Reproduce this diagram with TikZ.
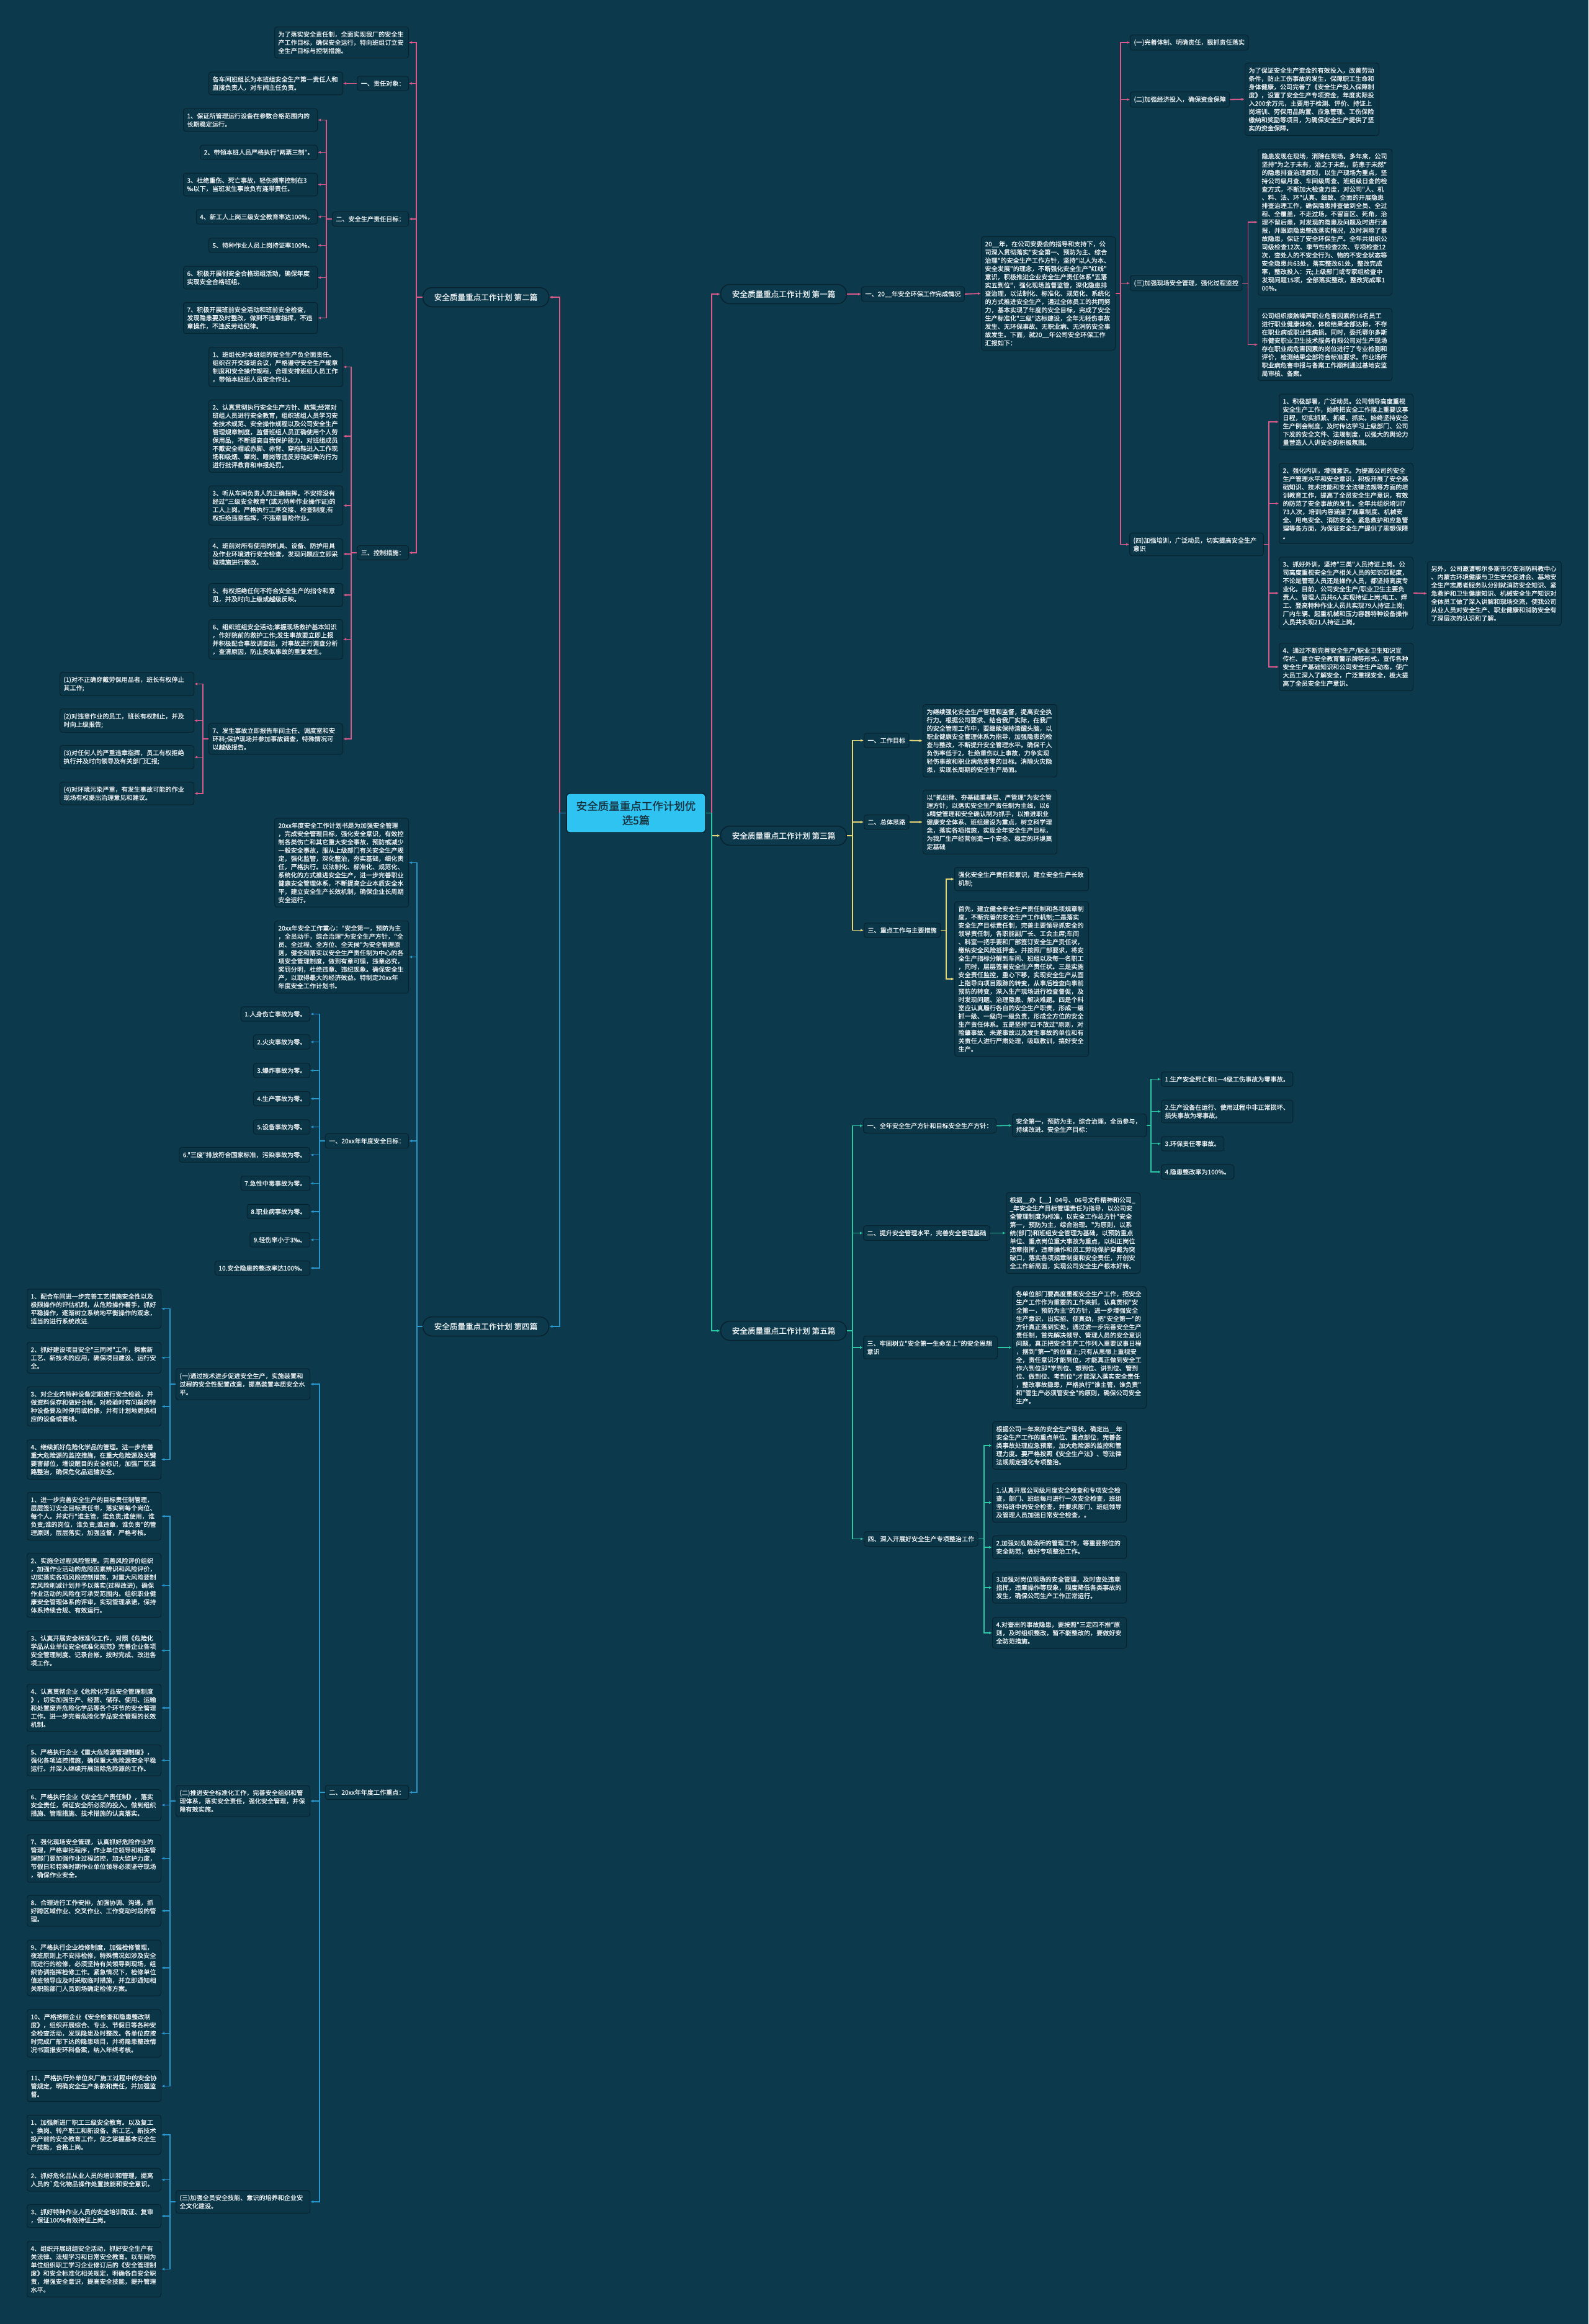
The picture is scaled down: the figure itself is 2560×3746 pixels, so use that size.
\documentclass[tikz,border=0pt]{standalone}
\usepackage{fontspec}
\newfontfamily\cjk{Noto Sans CJK SC}[FakeBold=0.8]
\usetikzlibrary{arrows.meta}
\definecolor{bgc}{HTML}{0C3A4C}
\definecolor{boxc}{HTML}{0B3647}
\definecolor{bordc}{HTML}{08222E}
\definecolor{txtc}{HTML}{EEF2F4}
\definecolor{ctrc}{HTML}{2EC3F0}
\definecolor{ctrtxt}{HTML}{17303D}
\definecolor{pinkc}{HTML}{DC5A8A}
\definecolor{bluec}{HTML}{2A97CC}
\definecolor{yelc}{HTML}{E9D676}
\definecolor{tealc}{HTML}{2CC7A4}
\tikzset{
  bx/.style={draw=bordc, line width=1pt, fill=boxc, rounded corners=4pt, text=txtc,
    inner xsep=6pt, inner ysep=7pt, align=left, font=\cjk\fontsize{10.1pt}{13.3pt}\selectfont},
  wbx/.style={bx, text width=204pt},
  lbx/.style={bx, anchor=east},
  rbx/.style={bx, anchor=west},
  lwb/.style={wbx, anchor=east},
  rwb/.style={wbx, anchor=west},
  part/.style={draw=bordc, line width=1.5pt, fill=bgc, rounded corners=15pt, text=txtc,
    minimum width=203pt, minimum height=31pt, font=\cjk\fontsize{12.6pt}{15pt}\selectfont},
  ctrbox/.style={draw=bordc, line width=1.5pt, fill=ctrc, rounded corners=5pt, text=ctrtxt,
    align=center, text width=193pt, inner xsep=15.5pt, inner ysep=12pt,
    font=\cjk\fontsize{17.5pt}{23pt}\selectfont},
  pkln/.style={draw=pinkc, line width=1.8pt, -{Latex[length=5pt,width=4.5pt]}},
  blln/.style={draw=bluec, line width=1.8pt, -{Latex[length=5pt,width=4.5pt]}},
  yeln/.style={draw=yelc, line width=1.8pt, -{Latex[length=5pt,width=4.5pt]}},
  tlln/.style={draw=tealc, line width=1.8pt, -{Latex[length=5pt,width=4.5pt]}}
}
\begin{document}
\begin{tikzpicture}[x=1pt,y=-1pt]
\fill[bgc] (0,0) rectangle (2560,3746);
\useasboundingbox (0,0) rectangle (2560,3746);

\node[ctrbox] (ctr) at (1025,1310.5) {安全质量重点工作计划优\\选5篇};
\node[part] (b2) at (783,479) {安全质量重点工作计划 第二篇};
\node[part] (b4) at (783,2138) {安全质量重点工作计划 第四篇};
\node[part] (b1) at (1263,474) {安全质量重点工作计划 第一篇};
\node[part] (b3) at (1263,1347) {安全质量重点工作计划 第三篇};
\node[part] (b5) at (1263,2145) {安全质量重点工作计划 第五篇};

\draw[yeln] (ctr.east) -- ++(9,0) |- (b3.west);
\draw[pkln] (ctr.east) -- ++(9,0) |- (b1.west);
\draw[tlln] (ctr.east) -- ++(9,0) |- (b5.west);
\draw[pkln] (ctr.west) -- ++(-10,0) |- (b2.east);
\draw[blln] (ctr.west) -- ++(-10,0) |- (b4.east);

% 第二篇
\node[lwb] (c1) at (659,68.5) {为了落实安全责任制，全面实现我厂的安全生\\产工作目标，确保安全运行，特向班组订立安\\全生产目标与控制措施。};
\node[lbx] (c2) at (659,134.5) {一、责任对象：};
\node[lwb] (c2a) at (553,134.5) {各车间班组长为本班组安全生产第一责任人和\\直接负责人，对车间主任负责。};
\node[lbx] (c3) at (659,353) {二、安全生产责任目标：};
\node[lwb] (c3a) at (512,193.5) {1、保证所管理运行设备在参数合格范围内的\\长期稳定运行。};
\node[lbx] (c3b) at (512,245.5) {2、带领本班人员严格执行"两票三制"。};
\node[lwb] (c3c) at (512,297.5) {3、杜绝重伤、死亡事故，轻伤频率控制在3\\‰以下，当班发生事故负有连带责任。};
\node[lbx] (c3d) at (512,349.5) {4、新工人上岗三级安全教育率达100\%。};
\node[lbx] (c3e) at (512,395.5) {5、特种作业人员上岗持证率100\%。};
\node[lwb] (c3f) at (512,447.5) {6、积极开展创安全合格班组活动，确保年度\\实现安全合格班组。};
\node[lwb] (c3g) at (512,512.5) {7、积极开展班前安全活动和班前安全检查，\\发现隐患要及时整改，做到不违章指挥，不违\\章操作，不违反劳动纪律。};
\node[lbx] (c4) at (659,891) {三、控制措施：};
\node[lwb] (c4a) at (553,591.5) {1、班组长对本班组的安全生产负全面责任。\\组织召开交接班会议，严格遵守安全生产规章\\制度和安全操作规程，合理安排班组人员工作\\，带领本班组人员安全作业。};
\node[lwb] (c4b) at (553,703) {2、认真贯彻执行安全生产方针、政策;经常对\\班组人员进行安全教育，组织班组人员学习安\\全技术规范、安全操作规程以及公司安全生产\\管理规章制度，监督班组人员正确使用个人劳\\保用品，不断提高自我保护能力。对班组成员\\不戴安全帽或赤脚、赤背、穿拖鞋进入工作现\\场和吸烟、窜岗、睡岗等违反劳动纪律的行为\\进行批评教育和申报处罚。};
\node[lwb] (c4c) at (553,815) {3、听从车间负责人的正确指挥。不安排没有\\经过"三级安全教育"(或无特种作业操作证)的\\工人上岗。严格执行工序交接、检查制度;有\\权拒绝违章指挥，不违章冒险作业。};
\node[lwb] (c4d) at (553,893) {4、班前对所有使用的机具、设备、防护用具\\及作业环境进行安全检查，发现问题应立即采\\取措施进行整改。};
\node[lwb] (c4e) at (553,959) {5、有权拒绝任何不符合安全生产的指令和意\\见，并及时向上级或越级反映。};
\node[lwb] (c4f) at (553,1030.5) {6、组织班组安全活动;掌握现场救护基本知识\\，作好院前的救护工作;发生事故要立即上报\\并积极配合事故调查组，对事故进行调查分析\\，查清原因，防止类似事故的重复发生。};
\node[lwb] (c4g) at (553,1191) {7、发生事故立即报告车间主任、调度室和安\\环科;保护现场并参加事故调查，特殊情况可\\以越级报告。};
\node[lwb] (c4g1) at (313,1102.5) {(1)对不正确穿戴劳保用品者，班长有权停止\\其工作;};
\node[lwb] (c4g2) at (313,1161.5) {(2)对违章作业的员工，班长有权制止，并及\\时向上级报告;};
\node[lwb] (c4g3) at (313,1220.5) {(3)对任何人的严重违章指挥，员工有权拒绝\\执行并及时向领导及有关部门汇报;};
\node[lwb] (c4g4) at (313,1279) {(4)对环境污染严重，有发生事故可能的作业\\现场有权提出治理意见和建议。};

\draw[pkln] (b2.west) -- ++(-10,0) |- (c1.east);
\draw[pkln] (b2.west) -- ++(-10,0) |- (c2.east);
\draw[pkln] (b2.west) -- ++(-10,0) |- (c3.east);
\draw[pkln] (b2.west) -- ++(-10,0) |- (c4.east);
\draw[pkln] (c2.west) -- (c2a.east);
\draw[pkln] (c3.west) -- ++(-9,0) |- (c3a.east);
\draw[pkln] (c3.west) -- ++(-9,0) |- (c3b.east);
\draw[pkln] (c3.west) -- ++(-9,0) |- (c3c.east);
\draw[pkln] (c3.west) -- ++(-9,0) |- (c3d.east);
\draw[pkln] (c3.west) -- ++(-9,0) |- (c3e.east);
\draw[pkln] (c3.west) -- ++(-9,0) |- (c3f.east);
\draw[pkln] (c3.west) -- ++(-9,0) |- (c3g.east);
\draw[pkln] (c4.west) -- ++(-9,0) |- (c4a.east);
\draw[pkln] (c4.west) -- ++(-9,0) |- (c4b.east);
\draw[pkln] (c4.west) -- ++(-9,0) |- (c4c.east);
\draw[pkln] (c4.west) -- ++(-9,0) |- (c4d.east);
\draw[pkln] (c4.west) -- ++(-9,0) |- (c4e.east);
\draw[pkln] (c4.west) -- ++(-9,0) |- (c4f.east);
\draw[pkln] (c4.west) -- ++(-9,0) |- (c4g.east);
\draw[pkln] (c4g.west) -- ++(-9,0) |- (c4g1.east);
\draw[pkln] (c4g.west) -- ++(-9,0) |- (c4g2.east);
\draw[pkln] (c4g.west) -- ++(-9,0) |- (c4g3.east);
\draw[pkln] (c4g.west) -- ++(-9,0) |- (c4g4.east);

% 第四篇
\node[lwb] (d1) at (659,1390.5) {20xx年度安全工作计划书是为加强安全管理\\，完成安全管理目标，强化安全意识，有效控\\制各类伤亡和其它重大安全事故，预防或减少\\一般安全事故，服从上级部门有关安全生产规\\定，强化监管，深化整治，夯实基础，细化责\\任，严格执行。以法制化、标准化、规范化、\\系统化的方式推进安全生产，进一步完善职业\\健康安全管理体系，不断提高企业本质安全水\\平，建立安全生产长效机制，确保企业长周期\\安全运行。};
\node[lwb] (d2) at (659,1542.5) {20xx年安全工作重心："安全第一，预防为主\\，全员动手，综合治理"为安全生产方针，"全\\员、全过程、全方位、全天候"为安全管理原\\则，健全和落实以安全生产责任制为中心的各\\项安全管理制度，做到有章可循，违章必究，\\奖罚分明，杜绝违章、违纪现象。确保安全生\\产，以取得最大的经济效益。特制定20xx年\\年度安全工作计划书。};
\node[lbx] (d3) at (659,1839) {一、20xx年年度安全目标：};
\node[lbx] (d3a) at (500,1634.5) {1.人身伤亡事故为零。};
\node[lbx] (d3b) at (500,1679.5) {2.火灾事故为零。};
\node[lbx] (d3c) at (500,1725.5) {3.爆炸事故为零。};
\node[lbx] (d3d) at (500,1771) {4.生产事故为零。};
\node[lbx] (d3e) at (500,1816.5) {5.设备事故为零。};
\node[lbx] (d3f) at (500,1861.5) {6."三废"排放符合国家标准，污染事故为零。};
\node[lbx] (d3g) at (500,1907.5) {7.急性中毒事故为零。};
\node[lbx] (d3h) at (500,1953) {8.职业病事故为零。};
\node[lbx] (d3i) at (500,1998.5) {9.轻伤率小于3‰。};
\node[lbx] (d3j) at (500,2044) {10.安全隐患的整改率达100\%。};
\node[lbx] (d4) at (659,2889) {二、20xx年年度工作重点：};
\node[lwb] (d4a) at (500,2231) {(一)通过技术进步促进安全生产，实施装置和\\过程的安全性配置改造，提高装置本质安全水\\平。};
\node[lwb] (d4b) at (500,2903) {(二)推进安全标准化工作，完善安全组织和管\\理体系，落实安全责任，强化安全管理，并保\\障有效实施。};
\node[lwb] (d4c) at (500,3549) {(三)加强全员安全技能、意识的培养和企业安\\全文化建设。};
\node[lwb] (d4a1) at (260,2109.5) {1、配合车间进一步完善工艺措施安全性以及\\极限操作的评估机制，从危险操作着手，抓好\\平稳操作，逐渐树立系统地平衡操作的观念，\\适当的进行系统改进.};
\node[lwb] (d4a2) at (260,2188.5) {2、抓好建设项目安全"三同时"工作，探索新\\工艺、新技术的应用，确保项目建设、运行安\\全。};
\node[lwb] (d4a3) at (260,2267) {3、对企业内特种设备定期进行安全检验，并\\做资料保存和做好台帐，对检验时有问题的特\\种设备要及时停用或检修，并有计划地更换相\\应的设备或管线。};
\node[lwb] (d4a4) at (260,2352.5) {4、继续抓好危险化学品的管理。进一步完善\\重大危险源的监控措施，在重大危险源及关键\\要害部位，增设醒目的安全标识，加强厂区道\\路整治，确保危化品运输安全。};
\node[lwb] (d4b1) at (260,2444) {1、进一步完善安全生产的目标责任制管理，\\层层签订安全目标责任书，落实到每个岗位、\\每个人。并实行"谁主管，谁负责;谁使用，谁\\负责;谁的岗位，谁负责;谁违章，谁负责"的管\\理原则，层层落实，加强监督，严格考核。};
\node[lwb] (d4b2) at (260,2555.5) {2、实施全过程风险管理。完善风险评价组织\\，加强作业活动的危险因素辨识和风险评价，\\切实落实各项风险控制措施，对重大风险要制\\定风险削减计划并予以落实(过程改进)，确保\\作业活动的风险在可承受范围内。组织职业健\\康安全管理体系的评审，实现管理承诺，保持\\体系持续合规、有效运行。};
\node[lwb] (d4b3) at (260,2660.5) {3、认真开展安全标准化工作，对照《危险化\\学品从业单位安全标准化规范》完善企业各项\\安全管理制度、记录台帐。按时完成、改进各\\项工作。};
\node[lwb] (d4b4) at (260,2753) {4、认真贯彻企业《危险化学品安全管理制度\\》，切实加强生产、经营、储存、使用、运输\\和处置废弃危险化学品等各个环节的安全管理\\工作。进一步完善危险化学品安全管理的长效\\机制。};
\node[lwb] (d4b5) at (260,2837.5) {5、严格执行企业《重大危险源管理制度》，\\强化各项监控措施，确保重大危险源安全平稳\\运行。并深入继续开展消除危险源的工作。};
\node[lwb] (d4b6) at (260,2909.5) {6、严格执行企业《安全生产责任制》，落实\\安全责任，保证安全所必须的投入，做到组织\\措施、管理措施、技术措施的认真落实。};
\node[lwb] (d4b7) at (260,2995.5) {7、强化现场安全管理，认真抓好危险作业的\\管理，严格审批程序，作业单位领导和相关管\\理部门要加强作业过程监控，加大监护力度，\\节假日和特殊时期作业单位领导必须坚守现场\\，确保作业安全。};
\node[lwb] (d4b8) at (260,3080) {8、合理进行工作安排，加强协调、沟通，抓\\好跨区域作业、交叉作业、工作变动时段的管\\理。};
\node[lwb] (d4b9) at (260,3172) {9、严格执行企业检修制度，加强检修管理，\\夜班原则上不安排检修，特殊情况如涉及安全\\而进行的检修，必须坚持有关领导到现场，组\\织协调指挥检修工作。紧急情况下，检修单位\\值班领导应及时采取临时措施，并立即通知相\\关职能部门人员到场确定检修方案。};
\node[lwb] (d4b10) at (260,3277.5) {10、严格按照企业《安全检查和隐患整改制\\度》，组织开展综合、专业、节假日等各种安\\全检查活动，发现隐患及时整改。各单位应按\\时完成厂部下达的隐患项目，并将隐患整改情\\况书面报安环科备案，纳入年终考核。};
\node[lwb] (d4b11) at (260,3362.5) {11、严格执行外单位来厂施工过程中的安全协\\管规定，明确安全生产条款和责任，并加强监\\督。};
\node[lwb] (d4c1) at (260,3441) {1、加强新进厂职工三级安全教育。以及复工\\、换岗、转产职工和新设备、新工艺、新技术\\投产前的安全教育工作，使之掌握基本安全生\\产技能，合格上岗。};
\node[lwb] (d4c2) at (260,3513.5) {2、抓好危化品从业人员的培训和管理，提高\\人员的`危化物品操作处置技能和安全意识。};
\node[lwb] (d4c3) at (260,3572) {3、抓好特种作业人员的安全培训取证、复审\\，保证100\%有效持证上岗。};
\node[lwb] (d4c4) at (260,3657.5) {4、组织开展班组安全活动，抓好安全生产有\\关法律、法规学习和日常安全教育。以车间为\\单位组织职工学习企业修订后的《安全管理制\\度》和安全标准化相关规定，明确各自安全职\\责，增强安全意识，提高安全技能，提升管理\\水平。};

\draw[blln] (b4.west) -- ++(-9,0) |- (d1.east);
\draw[blln] (b4.west) -- ++(-9,0) |- (d2.east);
\draw[blln] (b4.west) -- ++(-9,0) |- (d3.east);
\draw[blln] (b4.west) -- ++(-9,0) |- (d4.east);
\draw[blln] (d3.west) -- ++(-9,0) |- (d3a.east);
\draw[blln] (d3.west) -- ++(-9,0) |- (d3b.east);
\draw[blln] (d3.west) -- ++(-9,0) |- (d3c.east);
\draw[blln] (d3.west) -- ++(-9,0) |- (d3d.east);
\draw[blln] (d3.west) -- ++(-9,0) |- (d3e.east);
\draw[blln] (d3.west) -- ++(-9,0) |- (d3f.east);
\draw[blln] (d3.west) -- ++(-9,0) |- (d3g.east);
\draw[blln] (d3.west) -- ++(-9,0) |- (d3h.east);
\draw[blln] (d3.west) -- ++(-9,0) |- (d3i.east);
\draw[blln] (d3.west) -- ++(-9,0) |- (d3j.east);
\draw[blln] (d4.west) -- ++(-9,0) |- (d4a.east);
\draw[blln] (d4.west) -- ++(-9,0) |- (d4b.east);
\draw[blln] (d4.west) -- ++(-9,0) |- (d4c.east);
\draw[blln] (d4a.west) -- ++(-9,0) |- (d4a1.east);
\draw[blln] (d4a.west) -- ++(-9,0) |- (d4a2.east);
\draw[blln] (d4a.west) -- ++(-9,0) |- (d4a3.east);
\draw[blln] (d4a.west) -- ++(-9,0) |- (d4a4.east);
\draw[blln] (d4b.west) -- ++(-9,0) |- (d4b1.east);
\draw[blln] (d4b.west) -- ++(-9,0) |- (d4b2.east);
\draw[blln] (d4b.west) -- ++(-9,0) |- (d4b3.east);
\draw[blln] (d4b.west) -- ++(-9,0) |- (d4b4.east);
\draw[blln] (d4b.west) -- ++(-9,0) |- (d4b5.east);
\draw[blln] (d4b.west) -- ++(-9,0) |- (d4b6.east);
\draw[blln] (d4b.west) -- ++(-9,0) |- (d4b7.east);
\draw[blln] (d4b.west) -- ++(-9,0) |- (d4b8.east);
\draw[blln] (d4b.west) -- ++(-9,0) |- (d4b9.east);
\draw[blln] (d4b.west) -- ++(-9,0) |- (d4b10.east);
\draw[blln] (d4b.west) -- ++(-9,0) |- (d4b11.east);
\draw[blln] (d4c.west) -- ++(-9,0) |- (d4c1.east);
\draw[blln] (d4c.west) -- ++(-9,0) |- (d4c2.east);
\draw[blln] (d4c.west) -- ++(-9,0) |- (d4c3.east);
\draw[blln] (d4c.west) -- ++(-9,0) |- (d4c4.east);

% 第一篇
\node[rbx] (e0) at (1388,474) {一、20\_\_年安全环保工作完成情况};
\node[rwb] (ebig) at (1581,473) {20\_\_年，在公司安委会的指导和支持下，公\\司深入贯彻落实"安全第一、预防为主、综合\\治理"的安全生产工作方针，坚持"以人为本、\\安全发展"的理念，不断强化安全生产"红线"\\意识，积极推进企业安全生产责任体系"五落\\实五到位"，强化现场监督监管，深化隐患排\\查治理，以法制化、标准化、规范化、系统化\\的方式推进安全生产，通过全体员工的共同努\\力，基本实现了年度的安全目标，完成了安全\\生产标准化"三级"达标建设，全年无轻伤事故\\发生、无环保事故、无职业病、无消防安全事\\故发生。下面，就20\_\_年公司安全环保工作\\汇报如下：};
\node[rbx] (e1) at (1821,68.5) {(一)完善体制、明确责任，狠抓责任落实};
\node[rbx] (e2) at (1821,160.5) {(二)加强经济投入，确保资金保障};
\node[rwb] (e2a) at (2006,160) {为了保证安全生产资金的有效投入，改善劳动\\条件，防止工伤事故的发生，保障职工生命和\\身体健康，公司完善了《安全生产投入保障制\\度》，设置了安全生产专项资金，年度实际投\\入200余万元，主要用于检测、评价、持证上\\岗培训、劳保用品购置、应急管理、工伤保险\\缴纳和奖励等项目，为确保安全生产提供了坚\\实的资金保障。};
\node[rbx] (e3) at (1821,456.5) {(三)加强现场安全管理，强化过程监控};
\node[rwb] (e3a) at (2027,358) {隐患发现在现场，消除在现场。多年来，公司\\坚持"为之于未有，治之于未乱，防患于未然"\\的隐患排查治理原则，以生产现场为重点，坚\\持公司级月查、车间级周查、班组级日查的检\\查方式，不断加大检查力度，对公司"人、机\\、料、法、环"认真、细致、全面的开展隐患\\排查治理工作，确保隐患排查做到全员、全过\\程、全覆盖，不走过场，不留盲区、死角，治\\理不留后患，对发现的隐患及问题及时进行通\\报，并跟踪隐患整改落实情况，及时消除了事\\故隐患，保证了安全环保生产。全年共组织公\\司级检查12次、季节性检查2次、专项检查12\\次，查处人的不安全行为、物的不安全状态等\\安全隐患共63处，落实整改61处，整改完成\\率，整改投入：元;上级部门或专家组检查中\\发现问题15项，全部落实整改，整改完成率1\\00\%。};
\node[rwb] (e3b) at (2027,555.5) {公司组织接触噪声职业危害因素的16名员工\\进行职业健康体检，体检结果全部达标，不存\\在职业病或职业性病损。同时，委托鄂尔多斯\\市健安职业卫生技术服务有限公司对生产现场\\存在职业病危害因素的岗位进行了专业检测和\\评价，检测结果全部符合标准要求。作业场所\\职业病危害申报与备案工作顺利通过基地安监\\局审核、备案。};
\node[rwb] (e4) at (1820,877.5) {(四)加强培训，广泛动员，切实提高安全生产\\意识};
\node[rwb] (e4a) at (2061,680) {1、积极部署，广泛动员。公司领导高度重视\\安全生产工作，始终把安全工作摆上重要议事\\日程，切实抓紧、抓细、抓实。始终坚持安全\\生产例会制度，及时传达学习上级部门、公司\\下发的安全文件、法规制度，以强大的舆论力\\量营造人人讲安全的积极氛围。};
\node[rwb] (e4b) at (2061,811.5) {2、强化内训，增强意识。为提高公司的安全\\生产管理水平和安全意识，积极开展了安全基\\础知识、技术技能和安全法律法规等方面的培\\训教育工作，提高了全员安全生产意识，有效\\的防范了安全事故的发生。全年共组织培训7\\73人次，培训内容涵盖了规章制度、机械安\\全、用电安全、消防安全、紧急救护和应急管\\理等各方面，为保证安全生产提供了思想保障\\。};
\node[rwb] (e4c) at (2061,956) {3、抓好外训，坚持"三类"人员持证上岗。公\\司高度重视安全生产相关人员的知识匹配度，\\不论是管理人员还是操作人员，都坚持高度专\\业化。目前，公司安全生产/职业卫生主要负\\责人、管理人员共6人实现持证上岗;电工、焊\\工、登高特种作业人员共实现79人持证上岗;\\厂内车辆、起重机械和压力容器特种设备操作\\人员共实现21人持证上岗。};
\node[rwb] (e4c1) at (2300,956.5) {另外，公司邀请鄂尔多斯市亿安消防科教中心\\、内蒙古环境健康与卫生安全促进会、基地安\\全生产志愿者服务队分别就消防安全知识、紧\\急救护和卫生健康知识、机械安全生产知识对\\全体员工做了深入讲解和现场交流，使我公司\\从业人员对安全生产、职业健康和消防安全有\\了深层次的认识和了解。};
\node[rwb] (e4d) at (2061,1075) {4、通过不断完善安全生产/职业卫生知识宣\\传栏、建立安全教育警示牌等形式，宣传各种\\安全生产基础知识和公司安全生产动态，使广\\大员工深入了解安全，广泛重视安全，极大提\\高了全员安全生产意识。};

\draw[pkln] (b1.east) -- (e0.west);
\draw[pkln] (e0.east) -- (ebig.west);
\draw[pkln] (ebig.east) -- ++(8,0) |- (e1.west);
\draw[pkln] (ebig.east) -- ++(8,0) |- (e2.west);
\draw[pkln] (ebig.east) -- ++(8,0) |- (e3.west);
\draw[pkln] (ebig.east) -- ++(8,0) |- (e4.west);
\draw[pkln] (e2.east) -- (e2a.west);
\draw[pkln] (e3.east) -- ++(9,0) |- (e3a.west);
\draw[pkln] (e3.east) -- ++(9,0) |- (e3b.west);
\draw[pkln] (e4.east) -- ++(8,0) |- (e4a.west);
\draw[pkln] (e4.east) -- ++(8,0) |- (e4b.west);
\draw[pkln] (e4.east) -- ++(8,0) |- (e4c.west);
\draw[pkln] (e4.east) -- ++(8,0) |- (e4d.west);
\draw[pkln] (e4c.east) -- (e4c1.west);

% 第三篇
\node[rbx] (f1) at (1392,1193.5) {一、工作目标};
\node[rwb] (f1a) at (1487,1194) {为继续强化安全生产管理和监督，提高安全执\\行力。根据公司要求、结合我厂实际，在我厂\\的安全管理工作中，要继续保持清醒头脑，以\\职业健康安全管理体系为指导，加强隐患的检\\查与整改，不断提升安全管理水平。确保千人\\负伤率低于2，杜绝重伤以上事故，力争实现\\轻伤事故和职业病危害零的目标。消除火灾隐\\患，实现长周期的安全生产局面。};
\node[rbx] (f2) at (1392,1325) {二、总体思路};
\node[rwb] (f2a) at (1487,1325) {以"抓纪律、夯基础重基层、严管理"为安全管\\理方针，以落实安全生产责任制为主线，以6\\s精益管理和安全确认制为抓手，以推进职业\\健康安全体系、班组建设为重点，树立科学理\\念，落实各项措施，实现全年安全生产目标，\\为我厂生产经营创造一个安全、稳定的环境奠\\定基础};
\node[rbx] (f3) at (1392,1499.5) {三、重点工作与主要措施};
\node[rwb] (f3a) at (1538,1417) {强化安全生产责任和意识，建立安全生产长效\\机制;};
\node[rwb] (f3b) at (1538,1578) {首先，建立健全安全生产责任制和各项规章制\\度，不断完善的安全生产工作机制;二是落实\\安全生产目标责任制，完善主要领导抓安全的\\领导责任制，各职能副厂长、工会主席;车间\\、科室一把手要和厂部签订安全生产责任状，\\缴纳安全风险抵押金。并按照厂部要求，将安\\全生产指标分解到车间、班组以及每一名职工\\，同时，层层签署安全生产责任状。三是实施\\安全责任监控，重心下移，实现安全生产从面\\上指导向项目跟踪的转变，从事后检查向事前\\预防的转变，深入生产现场进行检查督促，及\\时发现问题、治理隐患、解决难题。四是个科\\室应认真履行各自的安全生产职责，形成一级\\抓一级、一级向一级负责，形成全方位的安全\\生产责任体系。五是坚持"四不放过"原则，对\\险肇事故、未遂事故以及发生事故的单位和有\\关责任人进行严肃处理，吸取教训，搞好安全\\生产。};

\draw[yeln] (b3.east) -- ++(9,0) |- (f1.west);
\draw[yeln] (b3.east) -- ++(9,0) |- (f2.west);
\draw[yeln] (b3.east) -- ++(9,0) |- (f3.west);
\draw[yeln] (f1.east) -- (f1a.west);
\draw[yeln] (f2.east) -- (f2a.west);
\draw[yeln] (f3.east) -- ++(9,0) |- (f3a.west);
\draw[yeln] (f3.east) -- ++(9,0) |- (f3b.west);

% 第五篇
\node[rbx] (g1) at (1391,1814.5) {一、全年安全生产方针和目标安全生产方针：};
\node[rwb] (g1a) at (1631,1814) {安全第一，预防为主，综合治理，全员参与，\\持续改进。安全生产目标：};
\node[rbx] (g1a1) at (1871,1739.5) {1.生产安全死亡和1—4级工伤事故为零事故。};
\node[rbx] (g1a2) at (1871,1791.5) {2.生产设备在运行、使用过程中非正常损坏、\\损失事故为零事故。};
\node[rbx] (g1a3) at (1871,1843.5) {3.环保责任零事故。};
\node[rbx] (g1a4) at (1871,1889) {4.隐患整改率为100\%。};
\node[rbx] (g2) at (1391,1987.5) {二、提升安全管理水平，完善安全管理基础};
\node[rwb] (g2a) at (1621,1987.5) {根据\_\_办【\_\_】04号、06号文件精神和公司\_\\\_年安全生产目标管理责任为指导，以公司安\\全管理制度为标准，以安全工作总方针"安全\\第一，预防为主，综合治理。"为原则，以系\\统(部门)和班组安全管理为基础，以预防重点\\单位、重点岗位重大事故为重点，以纠正岗位\\违章指挥，违章操作和员工劳动保护穿戴为突\\破口，落实各项规章制度和安全责任，开创安\\全工作新局面，实现公司安全生产根本好转。};
\node[rwb] (g3) at (1391,2172) {三、牢固树立"安全第一生命至上"的安全思想\\意识};
\node[rwb] (g3a) at (1631,2172) {各单位部门要高度重视安全生产工作，把安全\\生产工作作为重要的工作来抓，认真贯彻"安\\全第一，预防为主"的方针，进一步增强安全\\生产意识，出实招、使真劲，把"安全第一"的\\方针真正落到实处，通过进一步完善安全生产\\责任制，首先解决领导、管理人员的安全意识\\问题，真正把安全生产工作列入重要议事日程\\，摆到"第一"的位置上;只有从思想上重视安\\全，责任意识才能到位，才能真正做到安全工\\作六到位即"学到位、想到位、讲到位、管到\\位、做到位、考到位";才能深入落实安全责任\\，整改事故隐患，严格执行"谁主管，谁负责"\\和"管生产必须管安全"的原则，确保公司安全\\生产。};
\node[rbx] (g4) at (1392,2480.5) {四、深入开展好安全生产专项整治工作};
\node[rwb] (g4a) at (1599,2330) {根据公司一年来的安全生产现状，确定出\_\_年\\安全生产工作的重点单位、重点部位，完善各\\类事故处理应急预案，加大危险源的监控和管\\理力度。要严格按照《安全生产法》、等法律\\法规规定强化专项整治。};
\node[rwb] (g4b) at (1599,2422) {1.认真开展公司级月度安全检查和专项安全检\\查，部门、班组每月进行一次安全检查，班组\\坚持班中的安全检查，并要求部门、班组领导\\及管理人员加强日常安全检查，。};
\node[rwb] (g4c) at (1599,2494) {2.加强对危险场所的管理工作，等重要部位的\\安全防范，做好专项整治工作。};
\node[rwb] (g4d) at (1599,2559) {3.加强对岗位现场的安全管理，及时查处违章\\指挥，违章操作等现象，限度降低各类事故的\\发生，确保公司生产工作正常运行。};
\node[rwb] (g4e) at (1599,2632) {4.对查出的事故隐患，要按照"三定四不推"原\\则，及时组织整改，暂不能整改的，要做好安\\全防范措施。};

\draw[tlln] (b5.east) -- ++(9,0) |- (g1.west);
\draw[tlln] (b5.east) -- ++(9,0) |- (g2.west);
\draw[tlln] (b5.east) -- ++(9,0) |- (g3.west);
\draw[tlln] (b5.east) -- ++(9,0) |- (g4.west);
\draw[tlln] (g1.east) -- (g1a.west);
\draw[tlln] (g1a.east) -- ++(7,0) |- (g1a1.west);
\draw[tlln] (g1a.east) -- ++(7,0) |- (g1a2.west);
\draw[tlln] (g1a.east) -- ++(7,0) |- (g1a3.west);
\draw[tlln] (g1a.east) -- ++(7,0) |- (g1a4.west);
\draw[tlln] (g2.east) -- (g2a.west);
\draw[tlln] (g3.east) -- (g3a.west);
\draw[tlln] (g4.east) -- ++(9,0) |- (g4a.west);
\draw[tlln] (g4.east) -- ++(9,0) |- (g4b.west);
\draw[tlln] (g4.east) -- ++(9,0) |- (g4c.west);
\draw[tlln] (g4.east) -- ++(9,0) |- (g4d.west);
\draw[tlln] (g4.east) -- ++(9,0) |- (g4e.west);
\end{tikzpicture}
\end{document}
